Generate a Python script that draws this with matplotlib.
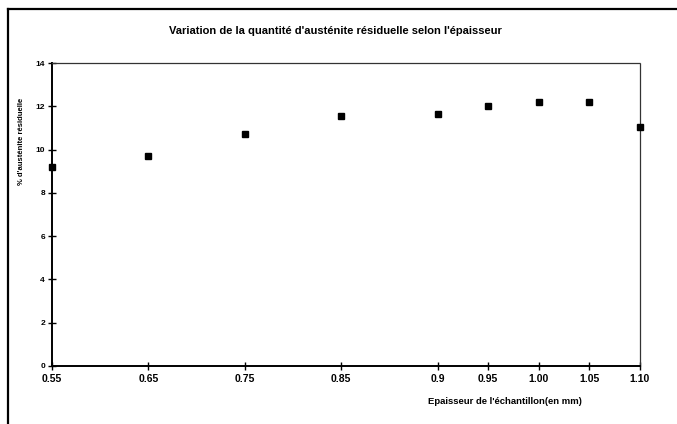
import numpy as np
import matplotlib
matplotlib.use("Agg")
import matplotlib.pyplot as plt
from matplotlib.lines import Line2D

# === Data ===
epaisseur = [0.55, 0.65, 0.75, 0.85, 0.90, 0.95, 1.00, 1.05, 1.10]
austenite = [9.2, 9.7, 10.7, 11.55, 11.65, 12.0, 12.2, 12.2, 11.05]
xtick_labels = ["0.55", "0.65", "0.75", "0.85", "0.9", "0.95", "1.00", "1.05", "1.10"]

# axis in the original is not linear: piecewise mapping value -> position
knot_val = [0.55, 0.85, 0.90, 1.10]
knot_pos = [0.0, 3.0, 4.0, 6.1]

def fwd(v):
    return np.interp(v, knot_val, knot_pos)

def inv(p):
    return np.interp(p, knot_pos, knot_val)

plt.rcParams["font.family"] = ["Liberation Sans", "DejaVu Sans"]
plt.rcParams["font.weight"] = "bold"

fig = plt.figure(figsize=(6.77, 4.24), dpi=100)
ax = fig.add_axes([52 / 677, 1 - 366 / 424, (640 - 52) / 677, (366 - 63) / 424])

ax.set_xscale("function", functions=(fwd, inv))
ax.plot(epaisseur, austenite, linestyle="none", marker="s", ms=4.2,
        color="black", clip_on=False, zorder=5)

ax.set_xlim(0.55, 1.10)
ax.set_ylim(0, 14)
ax.set_xticks(epaisseur)
ax.set_xticklabels(xtick_labels)
ax.set_yticks(np.arange(0, 15, 2))
ax.minorticks_off()

ax.tick_params(axis="both", direction="inout", length=6, width=1)
ax.tick_params(axis="x", pad=3, labelsize=7.5)
ax.tick_params(axis="y", pad=2, labelsize=6)
for lab in ax.get_xticklabels() + ax.get_yticklabels():
    lab.set_fontweight("bold")

ax.spines["left"].set_linewidth(1.4)
ax.spines["bottom"].set_linewidth(1.4)
for s in ["top", "right"]:
    ax.spines[s].set_linewidth(0.9)
    ax.spines[s].set_linestyle((0, (2, 1)))
    ax.spines[s].set_color("#333333")

# titles / labels
fig.text(335 / 677, 1 - 31 / 424, "Variation de la quantité d'austénite résiduelle selon l'épaisseur",
         ha="center", va="center", fontsize=8, fontweight="bold")
fig.text(22 / 677, 1 - 141 / 424, "% d'austénite résiduelle", rotation=90,
         ha="center", va="center", fontsize=5.5, fontweight="bold")
fig.text(505 / 677, 1 - 402 / 424, "Epaisseur de l'échantillon(en mm)",
         ha="center", va="center", fontsize=6.8, fontweight="bold")

# outer frame (top and left only, rest is cut off in the scan)
fig.add_artist(Line2D([7.5 / 677, 7.5 / 677], [0, 1 - 9 / 424], color="black", lw=1.6,
                      transform=fig.transFigure))
fig.add_artist(Line2D([7.5 / 677, 1], [1 - 9 / 424, 1 - 9 / 424], color="black", lw=1.6,
                      transform=fig.transFigure))

fig.savefig("out.png", dpi=100)
